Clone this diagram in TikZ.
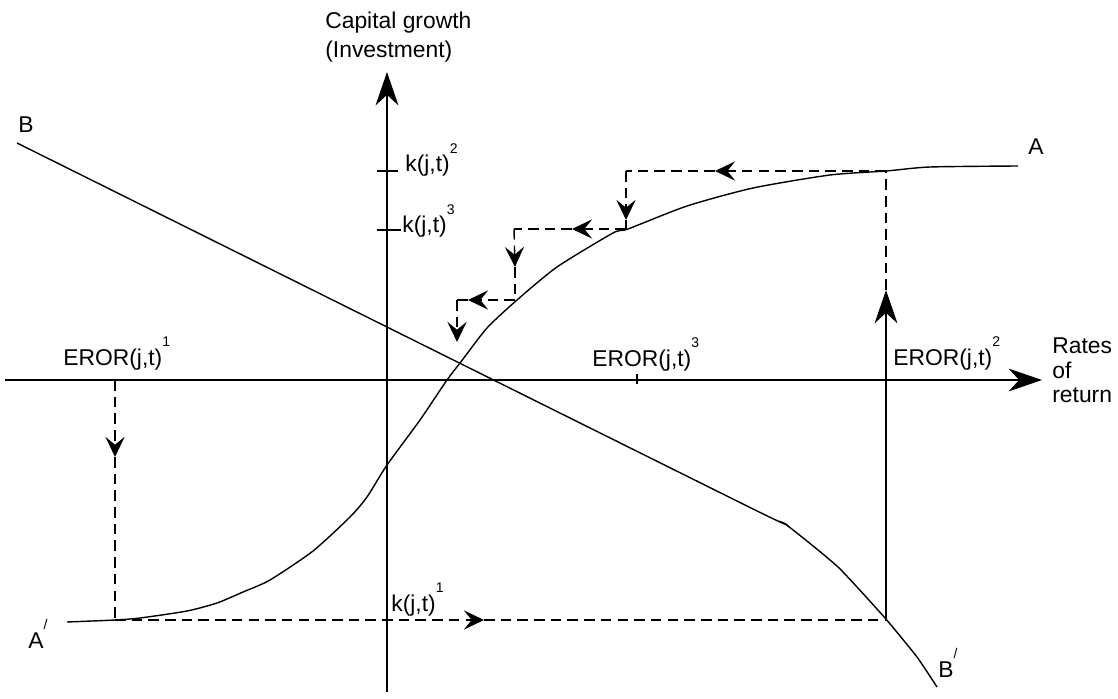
\documentclass[tikz,border=0pt]{standalone}
\usepackage{fontspec}
\setmainfont{Liberation Sans}
\usetikzlibrary{arrows.meta}

\newcommand{\sups}[1]{\raisebox{10.5pt}{\fontsize{8}{8}\selectfont #1}}

\begin{document}
\begin{tikzpicture}[
            x=0.02cm, y=-0.02cm,
            font=\fontsize{13}{16}\selectfont,
            axis/.style={line width=0.8pt, -{Stealth[length=19pt, width=13pt, inset=6pt]}},
            curve/.style={line width=0.8pt},
            guide/.style={line width=0.8pt, dash pattern=on 6pt off 3.5pt},
            midtip/.style={-{Stealth[length=11.5pt, width=11pt, inset=4.5pt]}},
            lbl/.style={inner sep=0pt, anchor=base west}
        ]
            \useasboundingbox (0,0) rectangle (1118,699);

            % Axes
            \coordinate (ytop) at (387,72);
            \coordinate (ybot) at (387,692);
            \coordinate (xleft) at (5,380);
            \coordinate (xright) at (1042,380);
            \draw[axis] (ybot) -- (ytop);
            \draw[axis] (xleft) -- (xright);

            % Ticks
            \draw[curve] (377,171) -- (398,171);
            \draw[curve] (377,230) -- (401,230);
            \draw[curve] (637,374) -- (637,384);

            % Curve B -- B'
            \draw[curve] plot[smooth, tension=0.3] coordinates {(17,143) (747,506) (785,524)
                (838,567) (885,618) (917,657) (937,687)};

            % Curve A' -- A
            \draw[curve] plot[smooth, tension=0.4] coordinates {(67,622) (115,620) (140,618)
                (187,611) (217,603) (243,592) (270,580) (313,551) (350,517) (367,497)
                (387,465) (420,420) (447,380) (460,363) (487,328) (517,300) (557,267)
                (613,233) (628,229) (687,206) (753,188) (830,175) (886,171) (930,167)
                (1018,166)};

            % Adjustment path
            \coordinate (e1) at (115,380);
            \coordinate (e1tip) at (115,457);
            \coordinate (c0) at (115,620);
            \coordinate (h1tip) at (484,620);
            \coordinate (c1) at (886,620);
            \coordinate (v1tip) at (886,290);
            \coordinate (c2) at (886,171);
            \coordinate (h2tip) at (715,171);
            \coordinate (c3) at (626,171);
            \coordinate (v3tip) at (626,220);
            \coordinate (c4) at (626,229);
            \coordinate (h4tip) at (572,229);
            \coordinate (c5) at (514,229);
            \coordinate (v5tip) at (515,267);
            \coordinate (c6) at (515,300);
            \coordinate (h6tip) at (468,300);
            \coordinate (c7) at (457,300);
            \coordinate (v7tip) at (457,342);

            \draw[guide, midtip] (e1) -- (e1tip);
            \draw[guide] (e1tip) -- (c0);
            \draw[guide, midtip] (c0) -- (h1tip);
            \draw[guide] (h1tip) -- (c1);
            \draw[axis] (c1) -- (v1tip);
            \draw[guide] (v1tip) -- (c2);
            \draw[guide, midtip] (c2) -- (h2tip);
            \draw[guide] (h2tip) -- (c3);
            \draw[guide, midtip] (c3) -- (v3tip);
            \draw[guide] (v3tip) -- (c4);
            \draw[guide, midtip] (c4) -- (h4tip);
            \draw[guide] (h4tip) -- (c5);
            \draw[guide, midtip] (c5) -- (v5tip);
            \draw[guide] (v5tip) -- (c6);
            \draw[guide, midtip] (c6) -- (h6tip);
            \draw[guide] (h6tip) -- (c7);
            \draw[guide, midtip] (c7) -- (v7tip);

            % Labels
            \node[inner sep=0pt, anchor=north west, align=left] (ylabel) at (325,12)
                {Capital growth\\(Investment)};
            \node[inner sep=0pt, anchor=north west, align=left,
                font=\fontsize{13}{14.2}\selectfont] (xlabel) at (1052,337) {Rates\\of\\return};
            \node[lbl] (kTwo) at (405,172) {k(j,t)\sups{2}};
            \node[lbl] (kThree) at (402,233) {k(j,t)\sups{3}};
            \node[lbl] (kOne) at (391,611) {k(j,t)\sups{1}};
            \node[lbl] (erorOne) at (63,365) {EROR(j,t)\sups{1}};
            \node[lbl] (erorThree) at (592,366) {EROR(j,t)\sups{3}};
            \node[lbl] (erorTwo) at (893,365) {EROR(j,t)\sups{2}};
            \node[lbl] (labB) at (18,133) {B};
            \node[lbl] (labA) at (1028,155) {A};
            \node[lbl] (labAp) at (28,648) {A\sups{/}};
            \node[lbl] (labBp) at (938,677) {B\sups{/}};
        \end{tikzpicture}
\end{document}
